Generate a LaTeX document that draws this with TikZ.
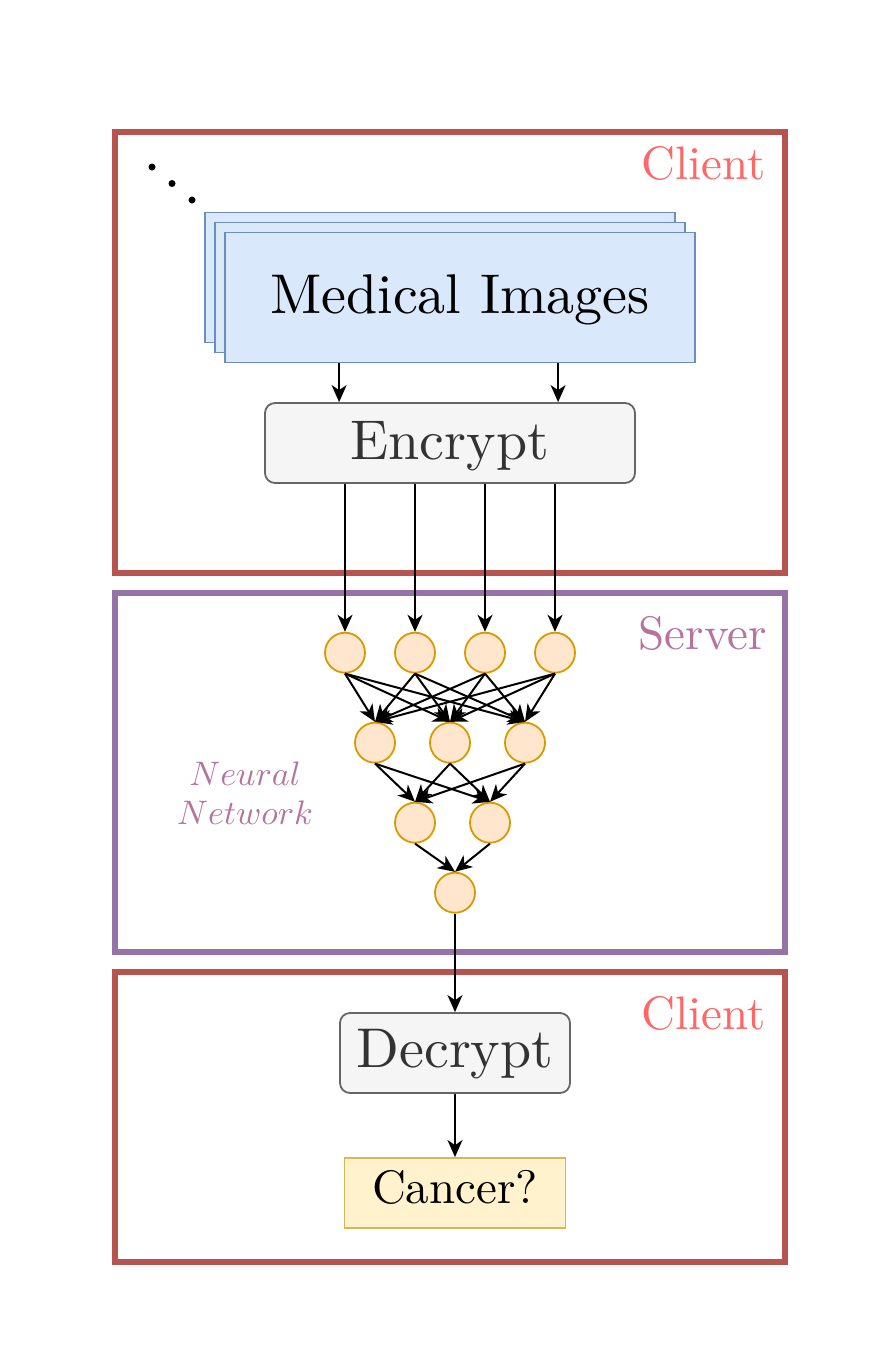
\documentclass[tikz,border=0pt]{standalone}
\usetikzlibrary{arrows.meta,calc}
\definecolor{clientFrame}{HTML}{B85450}
\definecolor{serverFrame}{HTML}{9673A6}
\definecolor{clientText}{HTML}{FF6666}
\definecolor{serverText}{HTML}{B5739D}
\definecolor{blueFill}{HTML}{DAE8FC}
\definecolor{blueStroke}{HTML}{6C8EBF}
\definecolor{grayFill}{HTML}{F5F5F5}
\definecolor{grayStroke}{HTML}{666666}
\definecolor{grayText}{HTML}{333333}
\definecolor{nnFill}{HTML}{FFE6CC}
\definecolor{nnStroke}{HTML}{D79B00}
\definecolor{yellowFill}{HTML}{FFF2CC}
\definecolor{yellowStroke}{HTML}{D6B656}
\newcommand{\bigtxt}[1]{\scalebox{5.6}{#1}}
\newcommand{\midtxt}[1]{\scalebox{4.7}{#1}}
\newcommand{\smalltxt}[1]{\scalebox{3.4}{#1}}
\begin{document}
\begin{tikzpicture}[x=1pt,y=-1pt,
  frameline/.style={line width=5.3pt},
  imgbox/.style={draw=blueStroke, fill=blueFill, line width=1.8pt, minimum width=470pt, minimum height=130pt, inner sep=0pt},
  procbox/.style={draw=grayStroke, fill=grayFill, rounded corners=10pt, line width=1.8pt, text=grayText, inner sep=0pt},
  neuron/.style={circle, draw=nnStroke, fill=nnFill, line width=1.8pt, minimum size=40pt, inner sep=0pt},
  arr/.style={-{Stealth[length=17pt,width=15pt,inset=5pt]}, line width=2pt},
  framelabel/.style={anchor=base east, inner sep=0pt}
]
\useasboundingbox (0,0) rectangle (888,1368);

% frames
\draw[frameline, clientFrame] (115,132) rectangle (785,573);
\draw[frameline, serverFrame] (115,593) rectangle (785,952);
\draw[frameline, clientFrame] (115,972) rectangle (785,1262);

\node[framelabel, text=clientText] (lclient1) at (766,179) {\midtxt{Client}};
\node[framelabel, text=serverText] (lserver) at (767,649) {\midtxt{Server}};
\node[framelabel, text=clientText] (lclient2) at (766,1029) {\midtxt{Client}};

% dots
\fill (152,167) circle (3.5pt);
\fill (172,183.5) circle (3.5pt);
\fill (192,200) circle (3.5pt);

% medical images stack
\node[imgbox] (img3) at (440,277.5) {};
\node[imgbox] (img2) at (450,287.5) {};
\node[imgbox, text height=38pt, text depth=6pt] (img) at (460,297.5) {\bigtxt{Medical Images}};

% encrypt
\node[procbox, minimum width=370pt, minimum height=80pt, text height=38pt, text depth=6pt] (enc) at (450,443) {\bigtxt{Encrypt}};

\draw[arr] ($(img.south west)+(115,0)$) -- ($(enc.north west)+(75,0)$);
\draw[arr] ($(img.south west)+(334,0)$) -- ($(enc.north west)+(294,0)$);

% neural network
\node[neuron] (a1) at (345,652.7) {};
\node[neuron] (a2) at (415,652.7) {};
\node[neuron] (a3) at (485,652.7) {};
\node[neuron] (a4) at (555,652.7) {};
\node[neuron] (b1) at (375,742.7) {};
\node[neuron] (b2) at (450,742.7) {};
\node[neuron] (b3) at (525,742.7) {};
\node[neuron] (c1) at (415,822.7) {};
\node[neuron] (c2) at (490,822.7) {};
\node[neuron] (o) at (455,892.7) {};

\foreach \i in {1,2,3,4} {
  \draw[arr] (enc.south -| a\i.north) -- (a\i.north);
  \foreach \j in {1,2,3} {
    \draw[arr] (a\i.south) -- (b\j.north);
  }
}
\foreach \i in {1,2,3} {
  \foreach \j in {1,2} {
    \draw[arr] (b\i.south) -- (c\j.north);
  }
}
\draw[arr] (c1.south) -- (o.north);
\draw[arr] (c2.south) -- (o.north);

\node[text=serverText, align=center, font=\fontsize{10}{39}\selectfont, inner sep=0pt] (nnlabel) at (245,793) {\smalltxt{$Neural$}\\\smalltxt{$Network$}};

% decrypt
\node[procbox, minimum width=230pt, minimum height=80pt, text height=38pt, text depth=10pt] (dec) at (455,1053) {\bigtxt{Decrypt}};
\draw[arr] (o.south) -- (dec.north);

% result
\node[draw=yellowStroke, fill=yellowFill, line width=1.8pt, minimum width=221pt, minimum height=70pt, inner sep=0pt, text height=32pt, text depth=12pt] (can) at (455,1193) {\midtxt{Cancer?}};
\draw[arr] (dec.south) -- (can.north);
\end{tikzpicture}
\end{document}
